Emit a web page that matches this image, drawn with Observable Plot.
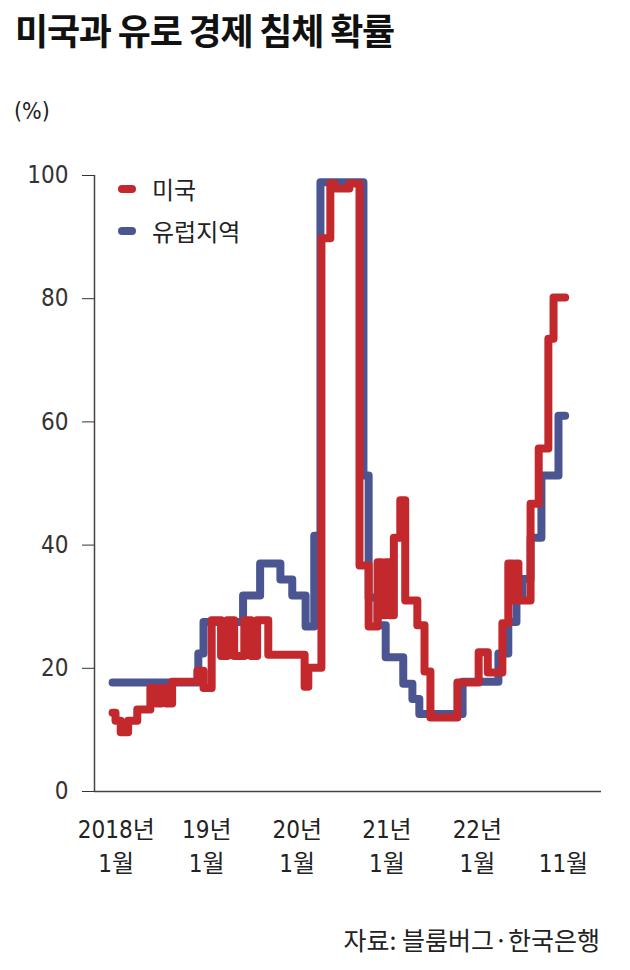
<!DOCTYPE html>
<html>
<head>
<meta charset="utf-8">
<script src="https://cdn.jsdelivr.net/npm/d3@7"></script>
<script src="https://cdn.jsdelivr.net/npm/@observablehq/plot@0.6"></script>
<style>
  html, body { margin: 0; padding: 0; background: #fff; }
  body { width: 630px; height: 970px; position: relative; overflow: hidden;
         font-family: "Noto Sans CJK KR", "Noto Sans", sans-serif; color: #222; }
  #title { position: absolute; left: 15px; top: 8px; font-size: 36px; line-height: 42px;
           font-weight: 700; letter-spacing: -1.2px; color: #111; }
  #unit { position: absolute; left: 14px; top: 97px; font-size: 23px; line-height: 28px;
          font-family: "Liberation Sans Narrow", "DejaVu Sans Condensed", sans-serif; }
  #chart { position: absolute; left: 0; top: 140px; }
  #legend { position: absolute; left: 118px; top: 168px; font-size: 24px; line-height: 42px; color: #222; }
  #legend .item { display: flex; align-items: center; }
  #legend .sw { width: 18px; height: 8px; border-radius: 4px; margin-right: 16px; }
  #source { position: absolute; right: 30px; top: 921px; font-size: 25px; line-height: 36px; color: #222; }
</style>
</head>
<body>
<div id="title">미국과 유로 경제 침체 확률</div>
<div id="unit">(%)</div>
<div id="chart"></div>
<div id="legend"></div>
<div id="source">자료: 블룸버그·한국은행</div>
<script>
// Series names and colours
const seriesNames = ["미국", "유럽지역"];
const seriesColors = ["#c3282d", "#4b5592"];

// 미국 (US) recession probability, step changes
const usDates = ["2018-01-01","2018-01-13","2018-02-03","2018-03-05","2018-04-11","2018-06-03","2018-06-27","2018-07-17","2018-08-06","2018-08-30",
  "2018-12-10","2019-01-04","2019-02-06","2019-03-16","2019-04-10","2019-05-08","2019-06-18","2019-07-15","2019-08-09","2019-09-23",
  "2020-02-17","2020-03-03","2020-04-25","2020-05-31","2020-06-16","2020-08-16","2020-09-26","2020-11-02","2020-12-08","2020-12-24",
  "2021-01-10","2021-01-26","2021-02-12","2021-03-10","2021-03-30","2021-05-18","2021-06-16","2021-07-10","2021-10-27","2022-01-21",
  "2022-02-27","2022-04-27","2022-05-21","2022-06-08","2022-06-20","2022-07-01","2022-08-19","2022-09-21","2022-10-30","2022-11-20","2023-01-06"];
const usValues = [12.8,11.5,9.6,11.5,13.3,16.8,14.3,16.8,14.3,17.8,
  19.6,16.8,27.8,22,27.8,22,27.8,22,27.8,22.2,
  17,20.1,89.8,98.7,97.9,98.7,36.7,26.8,37.2,28.6,
  37.2,28.6,41.2,47.3,31,27,19.5,12,17.7,22.6,
  19.3,27.3,37,31,37,31,46.7,55.7,73.5,80.2,80.2];

// 유럽지역 (Euro area) recession probability, step changes
const euDates = ["2018-01-01","2018-12-14","2019-01-04","2019-06-13","2019-08-21","2019-11-11","2019-12-29","2020-02-21","2020-03-27","2020-04-21",
  "2020-10-12","2020-11-02","2020-12-08","2021-01-10","2021-03-22","2021-04-28","2021-05-26","2021-11-17","2022-04-11","2022-05-21",
  "2022-06-23","2022-07-17","2022-08-19","2022-10-02","2022-12-10","2023-01-06"];
const euValues = [17.7,22.4,27.5,31.8,37,34.4,31.8,26.8,41.5,98.9,
  51.3,31.5,27,21.8,17.5,15,12.6,17.8,22.4,27.5,
  31.5,34.5,41.2,51.3,61,61];

// Axis ticks and labels
const yTicks = [0, 20, 40, 60, 80, 100];
const xTickDates = ["2018-01-16","2019-01-17","2020-01-18","2021-01-15","2022-01-16","2022-12-30"];
const xTickLabels = ["2018년\n1월","19년\n1월","20년\n1월","21년\n1월","22년\n1월","\n11월"];
const xDomain = ["2017-10-20","2023-06-02"];

const us = usDates.map((d, i) => ({date: new Date(d), value: usValues[i]}));
const eu = euDates.map((d, i) => ({date: new Date(d), value: euValues[i]}));
const xTicks = xTickDates.map((d, i) => ({date: new Date(d), label: xTickLabels[i]}));

const numFont = '"Liberation Sans Narrow", "DejaVu Sans Condensed", "Noto Sans CJK KR", sans-serif';

const chart = Plot.plot({
  width: 630,
  height: 750,
  marginLeft: 94,
  marginRight: 29,
  marginTop: 35,
  marginBottom: 99,
  style: {fontSize: "24px", fontFamily: numFont, color: "#333", background: "transparent"},
  x: {type: "utc", domain: xDomain.map(d => new Date(d)), axis: null},
  y: {domain: [0, 100], ticks: yTicks, tickSize: 12, tickPadding: 14, tickFormat: d => String(d), label: null},
  marks: [
    Plot.ruleX([new Date(xDomain[0])], {y1: 0, y2: 100, stroke: "#444", strokeWidth: 1.5}),
    Plot.ruleY([0], {stroke: "#444", strokeWidth: 1.5}),
    Plot.line(eu, {x: "date", y: "value", curve: "step-after", stroke: seriesColors[1], strokeWidth: 8,
                   strokeLinejoin: "round", strokeLinecap: "round"}),
    Plot.line(us, {x: "date", y: "value", curve: "step-after", stroke: seriesColors[0], strokeWidth: 8,
                   strokeLinejoin: "round", strokeLinecap: "round"}),
    Plot.text(xTicks, {x: "date", y: () => 0, text: "label", dy: 22, lineAnchor: "top", lineHeight: 1.42,
                       fontSize: 24, fill: "#222", fontFamily: numFont})
  ]
});
document.getElementById("chart").appendChild(chart);

const legend = document.getElementById("legend");
seriesNames.forEach((name, i) => {
  const item = document.createElement("div");
  item.className = "item";
  item.innerHTML = `<span class="sw" style="background:${seriesColors[i]}"></span><span>${name}</span>`;
  legend.appendChild(item);
});
</script>
</body>
</html>
